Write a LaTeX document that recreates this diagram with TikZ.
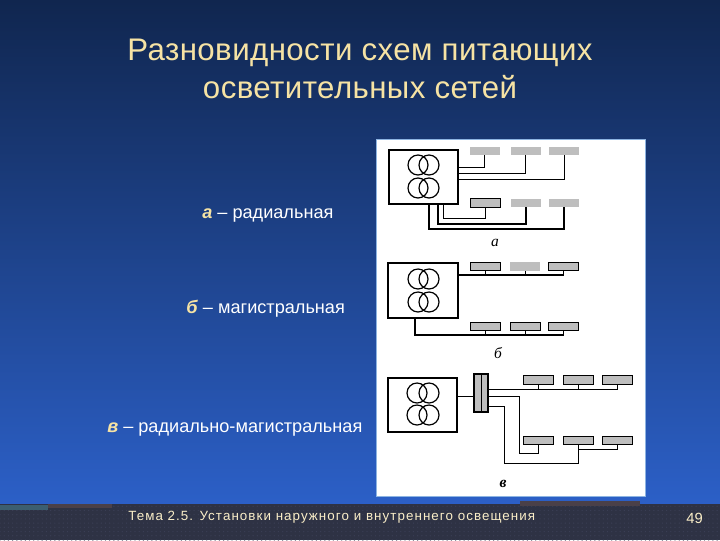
\documentclass[tikz,border=0pt]{standalone}
\usepackage{fontspec}
\setmainfont{Liberation Sans}
\newfontfamily\titlefont[LetterSpace=1.4]{Liberation Sans}
\newfontfamily\footfont[LetterSpace=8]{Liberation Sans}
\newfontfamily\letterfont{Liberation Serif}
\usetikzlibrary{positioning}
\usetikzlibrary{patterns}
\definecolor{navytop}{HTML}{10264F}
\definecolor{bluemid}{HTML}{1F4794}
\definecolor{bluelow}{HTML}{2C60C8}
\definecolor{footgray}{HTML}{2E3244}
\definecolor{footdot}{HTML}{3A3E54}
\definecolor{footbrown}{HTML}{4A4048}
\definecolor{footteal}{HTML}{3C5E70}
\definecolor{titlecream}{HTML}{F6E3A4}
\definecolor{lampgray}{HTML}{BEBEBE}
\definecolor{panelrim}{HTML}{8DB4E2}
\tikzstyle{title} = [inner sep=0, text=titlecream, font=\titlefont\fontsize{22.2}{27}\selectfont, align=center]
\tikzstyle{caption} = [inner sep=0, text=white, anchor=base west, font=\fontsize{12.9}{14}\selectfont]
\tikzstyle{foot} = [inner sep=0, text=titlecream!60!white, font=\fontsize{9.5}{12}\selectfont]
\tikzstyle{letter} = [inner sep=0, font=\letterfont\fontsize{11}{12}\selectfont\itshape]
\tikzstyle{trafo} = [rectangle, draw=black, line width=1.4pt, inner sep=0, minimum width=1.73cm, minimum height=1.35cm]
\tikzstyle{lamp} = [rectangle, fill=lampgray, inner sep=0, minimum width=0.75cm, minimum height=0.21cm]
\tikzstyle{lampdark} = [lamp, draw=black, line width=0.7pt]
\tikzstyle{wire} = [draw=black, line width=0.7pt]
\tikzstyle{coil} = [draw=black, line width=0.85pt]
\newcommand{\capletter}[1]{\textcolor{titlecream}{\textit{\textbf{#1}}}}

\begin{document}
\begin{tikzpicture}[x=0.025cm, y=-0.025cm]

    \useasboundingbox (0, 0) rectangle (720, 540);
    \shade[top color=navytop, middle color=bluemid, bottom color=bluelow] (0, 0) rectangle (720, 508);
    \fill[footgray] (0, 504) rectangle (720, 540);
    \fill[pattern=dots, pattern color=footdot] (0, 504) rectangle (720, 540);
    \fill[footteal] (0, 505) rectangle (48, 510);
    \fill[footbrown] (48, 504) rectangle (112, 508);
    \fill[footbrown] (520, 501) rectangle (640, 506);

    \node(heading)[title] at (360, 69) {Разновидности схем питающих\\осветительных сетей};

    \node(capa)[caption] at (202, 218.5) {\capletter{а} – радиальная};
    \node(capb)[caption] at (186, 313) {\capletter{б} – магистральная};
    \node(capc)[caption] at (107, 432) {\capletter{в} – радиально-магистральная};

    \node(topic)[foot, anchor=base west] at (128, 520) {\footfont Тема 2.5. Установки наружного и внутреннего освещения};
    \node(pagenum)[foot, anchor=base east, font=\fontsize{10.5}{12}\selectfont] at (703, 523) {49};

    \node(panel)[rectangle, fill=white, draw=panelrim, line width=0.7pt, inner sep=0, minimum width=6.7cm, minimum height=8.9cm] at (511, 318) {};

    % scheme a
    \node(trafoa)[trafo, line width=1.7pt] at (423.5, 177) {};
    \draw[coil] (418, 165) circle (10);
    \draw[coil] (429, 165) circle (10);
    \draw[coil] (418, 188) circle (10);
    \draw[coil] (429, 188) circle (10);

    \node(lampa1)[lamp] at (484.5, 151) {};
    \node(lampa2)[lamp] at (525.5, 151) {};
    \node(lampa3)[lamp] at (564, 151) {};
    \node(lampa4)[lampdark] at (485, 203) {};
    \node(lampa5)[lamp] at (526, 203) {};
    \node(lampa6)[lamp] at (564, 203) {};

    \draw[wire] (trafoa.east |- 0, 167) -| (lampa1.south);
    \draw[wire] (trafoa.east |- 0, 173) -| (lampa2.south);
    \draw[wire] (trafoa.east |- 0, 179) -| (lampa3.south);
    \draw[wire] (trafoa.south -| 443, 0) |- (lampa4.south |- 0, 218) -- (lampa4.south);
    \draw[wire, line width=0.9pt] (trafoa.south -| 438, 0) |- (lampa5.south |- 0, 224) -- (lampa5.south);
    \draw[wire, line width=0.9pt] (trafoa.south -| 429, 0) |- (lampa6.south |- 0, 229) -- (lampa6.south);
    \node(leta)[letter] at (495, 243) {а};

    % scheme b
    \node(trafob)[trafo, minimum height=1.37cm] at (423, 290.5) {};
    \draw[coil] (418, 279) circle (10);
    \draw[coil] (429, 279) circle (10);
    \draw[coil] (418, 302) circle (10);
    \draw[coil] (429, 302) circle (10);

    \node(lampb1)[lampdark] at (485, 266.5) {};
    \node(lampb2)[lamp] at (525, 266.5) {};
    \node(lampb3)[lampdark] at (563.5, 266.5) {};
    \node(lampb4)[lampdark] at (485, 326.5) {};
    \node(lampb5)[lampdark] at (525, 326.5) {};
    \node(lampb6)[lampdark] at (563.5, 326.5) {};

    \draw[wire, line width=0.9pt] (trafob.east |- 0, 275) -| (lampb3.south);
    \draw[wire] (lampb1.south) -- (lampb1.south |- 0, 275);
    \draw[wire] (lampb2.south) -- (lampb2.south |- 0, 275);
    \draw[wire, line width=0.9pt] (trafob.south -| 415, 0) |- (lampb6.south |- 0, 335) -- (lampb6.south);
    \draw[wire] (lampb4.south) -- (lampb4.south |- 0, 335);
    \draw[wire] (lampb5.south) -- (lampb5.south |- 0, 335);
    \node(letb)[letter] at (498, 353) {б};

    % scheme c
    \node(trafoc)[trafo] at (422.5, 405) {};
    \draw[coil] (417, 393) circle (10);
    \draw[coil] (429, 393) circle (10);
    \draw[coil] (417, 415) circle (10);
    \draw[coil] (429, 415) circle (10);

    \node(busbar)[rectangle, fill=lampgray, draw=black, line width=0.8pt, inner sep=0, minimum width=0.35cm, minimum height=0.95cm] at (481, 393) {};
    \draw[wire] (busbar.north) -- (busbar.south);

    \node(lampc1)[lampdark] at (538.5, 380) {};
    \node(lampc2)[lampdark] at (578.5, 380) {};
    \node(lampc3)[lampdark] at (617, 380) {};
    \node(lampc4)[lampdark] at (538.5, 440.5) {};
    \node(lampc5)[lampdark] at (578.5, 440.5) {};
    \node(lampc6)[lampdark] at (617, 440.5) {};

    \draw[wire] (trafoc.east |- 0, 396) -- (busbar.west |- 0, 396);
    \draw[wire] (busbar.east |- 0, 389) -| (lampc3.south);
    \draw[wire] (lampc1.south) -- (lampc1.south |- 0, 389);
    \draw[wire] (lampc2.south) -- (lampc2.south |- 0, 389);
    \draw[wire] (busbar.east |- 0, 396) -| (519, 453) -| (lampc4.south);
    \draw[wire] (busbar.east |- 0, 406) -| (504, 463) -| (lampc5.south);
    \draw[wire] (lampc5.south) |- (lampc6.south |- 0, 449) -- (lampc6.south);
    \node(letc)[letter, font=\letterfont\fontsize{11}{12}\selectfont\itshape\bfseries] at (503, 484) {в};

\end{tikzpicture}
\end{document}
